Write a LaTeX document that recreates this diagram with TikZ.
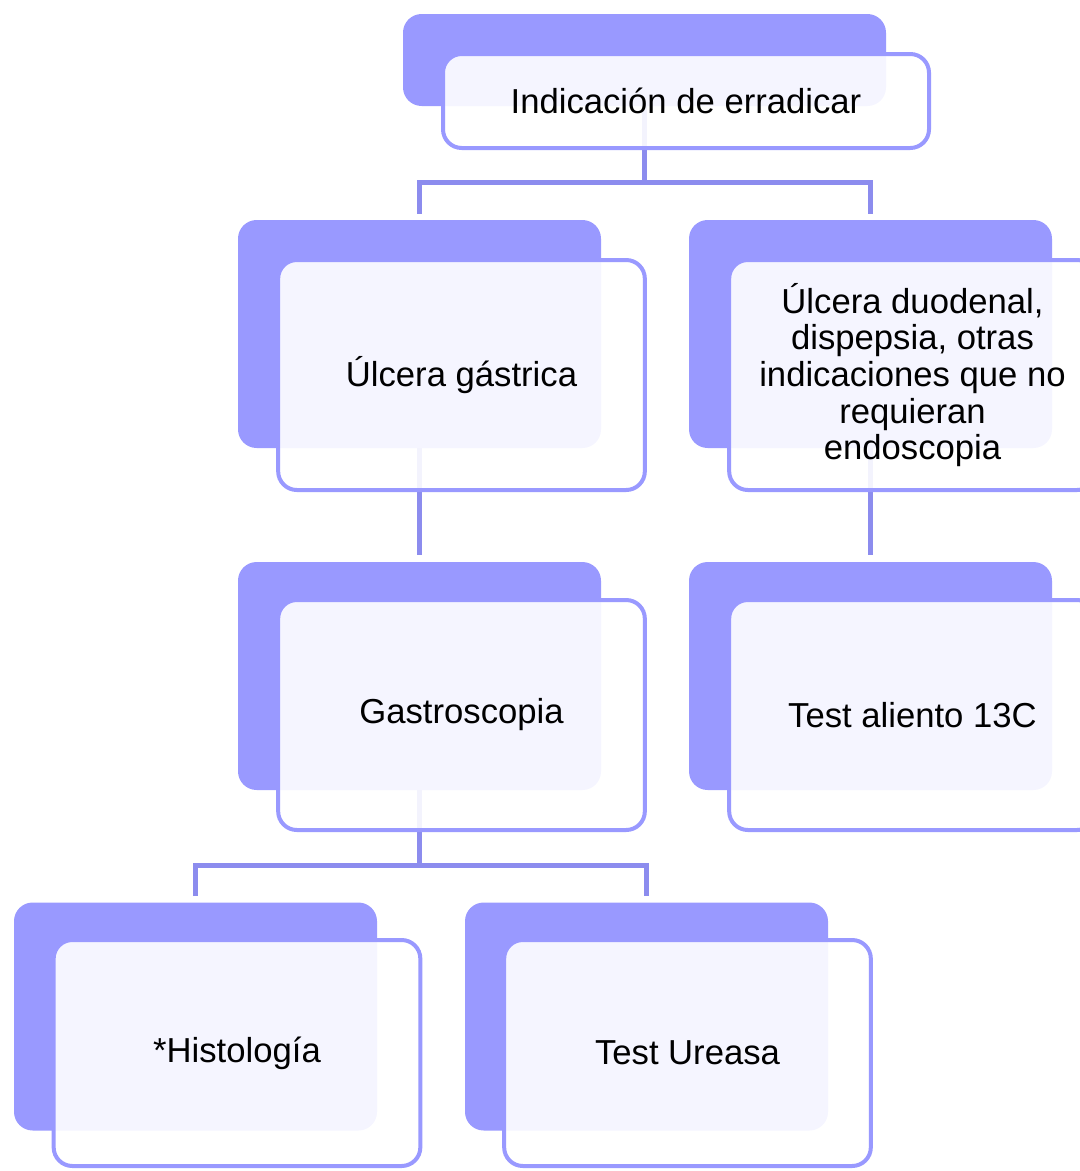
\documentclass[tikz,border=0pt]{standalone}
\usepackage{fontspec}
\setmainfont{Liberation Sans}
\usepackage{tikz}
\usetikzlibrary{positioning}
\usetikzlibrary{shapes}

\definecolor{backc}{HTML}{9999FF}
\definecolor{linkc}{HTML}{8C8CEE}

\tikzset{
  backbox/.style={rectangle, rounded corners=14pt, fill=backc, draw=none, inner sep=0pt},
  frontbox/.style={rectangle, rounded corners=14pt, fill=white, fill opacity=0.9, text opacity=1,
    draw=backc, line width=3pt, inner sep=0pt, align=center,
    font=\fontsize{26}{27.5}\selectfont},
  wide/.style={minimum width=362.25pt, minimum height=69pt},
  widefront/.style={minimum width=364.5pt, minimum height=70.5pt},
  tall/.style={minimum width=272.25pt, minimum height=171pt},
  tallfront/.style={minimum width=275pt, minimum height=172.5pt},
  link/.style={draw=linkc, line width=3.75pt}
}

\begin{document}
\begin{tikzpicture}[x=0.75pt, y=-0.75pt]
  \useasboundingbox (0,0) rectangle (1079,1171);

  \node[backbox, wide] (indB) at (644.5,60) {};
  \node[backbox, tall] (ulcgB) at (419.5,334) {};
  \node[backbox, tall] (ulcdB) at (870.5,334) {};
  \node[backbox, tall] (gastB) at (419.5,676) {};
  \node[backbox, tall] (alieB) at (870.5,676) {};
  \node[backbox, tall] (histB) at (195.5,1016.5) {};
  \node[backbox, tall] (ureB) at (646.5,1016.5) {};

  \coordinate (jTop) at (644.5,182);
  \coordinate (jLow) at (419.5,865);
  \draw[link] (indB.south) -- (jTop);
  \draw[link, shorten <=4.5pt, shorten >=4.5pt] (ulcgB.north) |- (jTop) -| (ulcdB.north);
  \draw[link, shorten >=5pt] (ulcgB.south) -- (gastB.north);
  \draw[link, shorten >=5pt] (ulcdB.south) -- (alieB.north);
  \draw[link] (gastB.south) -- (jLow);
  \draw[link, shorten <=4.5pt, shorten >=4.5pt] (histB.north) |- (jLow) -| (ureB.north);

  \node[frontbox, widefront] (ind) at (686,101) {Indicación de erradicar};
  \node[frontbox, tallfront] (ulcg) at (461.5,375) {Úlcera gástrica};
  \node[frontbox, tallfront] (ulcd) at (912.5,375) {Úlcera duodenal,\\dispepsia, otras\\indicaciones que no\\requieran\\endoscopia};
  \node[frontbox, tallfront] (gast) at (461.5,715) {Gastroscopia};
  \node[frontbox, tallfront] (alie) at (912.5,715) {Test aliento 13C};
  \node[frontbox, tallfront, minimum height=169.5pt] (hist) at (237,1053) {*Histología};
  \node[frontbox, tallfront, minimum height=169.5pt] (ure) at (687.5,1053) {Test Ureasa};
\end{tikzpicture}
\end{document}
